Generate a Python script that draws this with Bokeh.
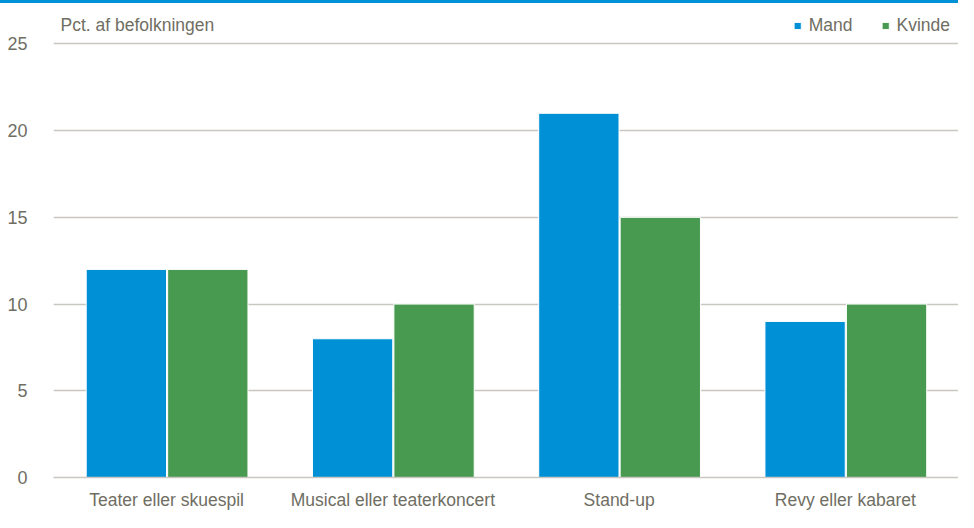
from bokeh.plotting import figure
from bokeh.models import ColumnDataSource, FactorRange, Range1d, FixedTicker, Legend, LegendItem, Label, Div
from bokeh.layouts import column
from bokeh.transform import dodge
from bokeh.embed import file_html
from bokeh.resources import INLINE

categories = ["Teater eller skuespil", "Musical eller teaterkoncert", "Stand-up", "Revy eller kabaret"]
mand = [12, 8, 21, 9]
kvinde = [12, 10, 15, 10]
y_ticks = [0, 5, 10, 15, 20, 25]
y_label = "Pct. af befolkningen"

BLUE = "#0090D5"
GREEN = "#479A50"
TXT = "#6f6e63"
GRID = "#c9c8c0"
FONT = "Liberation Sans"

src = ColumnDataSource(dict(cat=categories, mand=mand, kvinde=kvinde))

p = figure(x_range=FactorRange(*categories, range_padding=0), y_range=Range1d(0, 27.1),
           width=958, height=509, output_backend="svg", toolbar_location=None,
           min_border_left=53, min_border_right=0, min_border_top=4, min_border_bottom=27)
p.outline_line_color = None

r1 = p.vbar(x=dodge("cat", -0.178, range=p.x_range), top="mand", width=0.355, source=src,
            fill_color=BLUE, line_color="white", line_width=1)
r2 = p.vbar(x=dodge("cat", 0.182, range=p.x_range), top="kvinde", width=0.355, source=src,
            fill_color=GREEN, line_color="white", line_width=1)

p.yaxis.ticker = FixedTicker(ticks=y_ticks)
p.yaxis.axis_line_color = None
p.yaxis.major_tick_line_color = None
p.yaxis.minor_tick_line_color = None
p.yaxis.major_label_standoff = 20
p.yaxis.major_label_text_font = FONT
p.yaxis.major_label_text_font_size = "18px"
p.yaxis.major_label_text_color = TXT

p.xaxis.axis_line_color = GRID
p.xaxis.axis_line_width = 1.5
p.xaxis.major_tick_line_color = None
p.xaxis.minor_tick_line_color = None
p.xaxis.major_label_standoff = 6
p.xaxis.major_label_text_font = FONT
p.xaxis.major_label_text_font_size = "17.5px"
p.xaxis.major_label_text_color = TXT

p.xgrid.grid_line_color = None
p.ygrid.grid_line_color = GRID
p.ygrid.grid_line_width = 1.5

p.add_layout(Label(x=0, y=26.08, text=y_label, x_offset=7, text_baseline="middle",
                   text_font=FONT, text_font_size="17.5px", text_color=TXT))

legend = Legend(items=[LegendItem(label="Mand", renderers=[r1]),
                       LegendItem(label="Kvinde", renderers=[r2])],
                location="top_right", orientation="horizontal",
                glyph_width=9, glyph_height=9, label_standoff=7, spacing=28,
                padding=0, margin=8, border_line_color=None, background_fill_alpha=0,
                label_text_font=FONT, label_text_font_size="17.5px", label_text_color=TXT)
p.add_layout(legend)

bar = Div(text="", width=958, height=3, styles={"background-color": "#0090D5"}, margin=0)
layout = column(bar, p, spacing=0)

open("out.html", "w").write(file_html(layout, INLINE))
